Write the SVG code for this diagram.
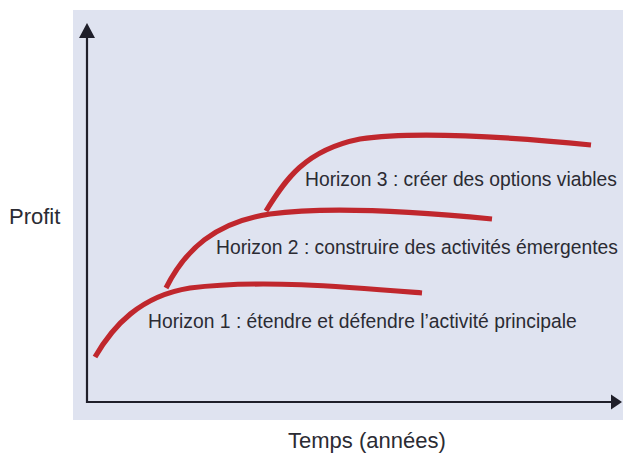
<svg xmlns="http://www.w3.org/2000/svg" width="623" height="453" viewBox="0 0 623 453">
  <style>
    .axis { stroke: #1f1f2a; stroke-width: 2.2; fill: none; }
    .head { fill: #1f1f2a; }
    .curve { stroke: #c0272d; stroke-width: 5.2; fill: none; stroke-linecap: butt; }
    .lbl { font-family: "Liberation Sans", Arial, sans-serif; font-size: 19.3px; fill: #2b2b33; }
    .axlbl { font-family: "Liberation Sans", Arial, sans-serif; font-size: 22px; fill: #2b2b33; }
  </style>

  <!-- page and plot area -->
  <rect x="0" y="0" width="623" height="453" fill="#ffffff"/>
  <rect x="73" y="10" width="550" height="410" fill="#dfe3f0"/>

  <!-- axes -->
  <g id="axes">
    <line class="axis" x1="87" y1="403" x2="87" y2="36"/>
    <line class="axis" x1="86" y1="402" x2="613" y2="402"/>
    <polygon class="head" points="87,23 79,38 95,38"/>
    <polygon class="head" points="622,402 611,394.5 611,409.5"/>
  </g>

  <!-- growth curves -->
  <g id="connectors">
    <path id="curve-h1" class="curve" d="M95,357 C113,326 140,296 190,288 C260,279 350,287 422,293"/>
    <path id="curve-h2" class="curve" d="M166,288 C185,250 215,222 270,214 C330,206 420,212 492,219"/>
    <path id="curve-h3" class="curve" d="M266,211 C285,180 305,150 360,139 C420,130 520,138 591,145"/>
  </g>

  <g id="h1"><text class="lbl" x="148" y="328">Horizon 1 : étendre et défendre l’activité principale</text></g>
  <g id="h2"><text class="lbl" x="216" y="254">Horizon 2 : construire des activités émergentes</text></g>
  <g id="h3"><text class="lbl" x="305" y="186">Horizon 3 : créer des options viables</text></g>

  <g id="y-label"><text class="axlbl" x="9" y="224">Profit</text></g>
  <g id="x-label"><text class="axlbl" x="288" y="448">Temps (années)</text></g>
</svg>
